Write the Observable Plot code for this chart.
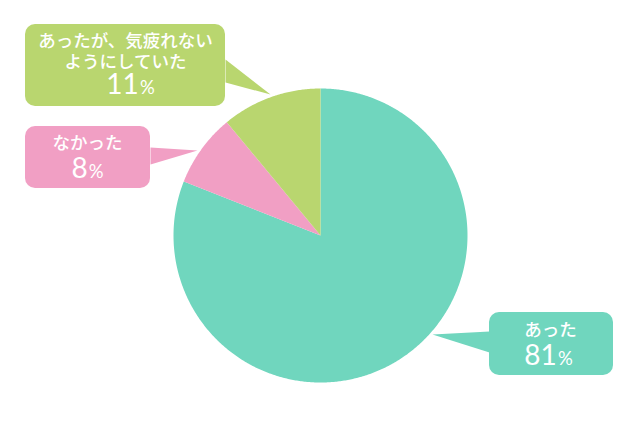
<!DOCTYPE html>
<html><head><meta charset="utf-8">
<script src="https://cdn.jsdelivr.net/npm/d3@7"></script>
<script src="https://cdn.jsdelivr.net/npm/@observablehq/plot@0.6"></script>
<style>body{margin:0;background:#fff;} svg{display:block}</style>
</head><body><div id="chart"></div>
<script>
// ---- data ----
const categories = ["あった", "なかった", "あったが、気疲れないようにしていた"];
const values = [81, 8, 11];
const labelText = ["あった", "なかった", "あったが、気疲れない\nようにしていた"];
const colors = ["#70d6be", "#f19fc4", "#b9d66f"];

// ---- layout (pixel space) ----
const W = 640, H = 430;
const cx = 320, cy = 235, R = 147;
const boxes = [
  {x1: 489, x2: 613, y1: 312, y2: 375, ptr: [[489, 331], [432, 334], [489, 352]], lx: 550, ly: 329, nx: 548, ny: 356},
  {x1: 25, x2: 150, y1: 126, y2: 188, ptr: [[150, 147], [197, 150], [150, 164]], lx: 87, ly: 142, nx: 87, ny: 169},
  {x1: 25, x2: 225, y1: 24, y2: 106, ptr: [[225, 59], [270, 94], [225, 82]], lx: 125, ly: 50, nx: 130, ny: 85}
];

const rows = categories.map((c, i) => ({category: c, value: values[i], label: labelText[i], ...boxes[i]}));

// pie slices via d3.pie angles, drawn through Plot scales
const arcs = d3.pie().sort(null).value(d => d.value)(rows);
const slicePts = [];
arcs.forEach(p => {
  const c = p.data.category;
  slicePts.push({category: c, x: cx, y: cy});
  const n = Math.max(2, Math.ceil((p.endAngle - p.startAngle) / (Math.PI / 360)));
  for (let k = 0; k <= n; k++) {
    const a = p.startAngle + (p.endAngle - p.startAngle) * k / n;
    slicePts.push({category: c, x: cx + R * Math.sin(a), y: cy - R * Math.cos(a)});
  }
});
const ptrPts = rows.flatMap(r => r.ptr.map(([x, y]) => ({category: r.category, x, y})));

const font = "'Noto Sans CJK JP', 'Noto Sans', sans-serif";
const numFont = "Lato, 'Noto Sans', sans-serif";

const chart = Plot.plot({
  width: W, height: H,
  margin: 0,
  x: {domain: [0, W], range: [0, W], axis: null},
  y: {domain: [0, H], range: [0, H], axis: null},
  color: {domain: categories, range: colors},
  style: {fontFamily: font, background: "#fff"},
  marks: [
    Plot.line(slicePts, {x: "x", y: "y", z: "category", fill: "category", stroke: null}),
    Plot.line(ptrPts, {x: "x", y: "y", z: "category", fill: "category", stroke: null}),
    Plot.rect(rows, {x1: "x1", x2: "x2", y1: "y1", y2: "y2", fill: "category", rx: 10}),
    Plot.text(rows, {x: "lx", y: "ly", text: "label", fill: "white", fontSize: 17.5, fontWeight: 500, lineHeight: 1.2, fontFamily: font}),
    Plot.text(rows, {x: "nx", y: "ny", text: d => d.value + "%", fill: "white", fontSize: 28, fontWeight: 400, fontFamily: numFont})
  ]
});
// smaller percent sign
d3.select(chart).selectAll("text").each(function() {
  const t = this.textContent;
  const m = /^(\d+)%$/.exec(t);
  if (m) {
    const sel = d3.select(this);
    sel.text(null);
    sel.append("tspan").text(m[1]);
    sel.append("tspan").attr("font-size", "0.66em").attr("dx", "0.06em").text("%");
  }
});
document.getElementById("chart").append(chart);
</script>
</body></html>
